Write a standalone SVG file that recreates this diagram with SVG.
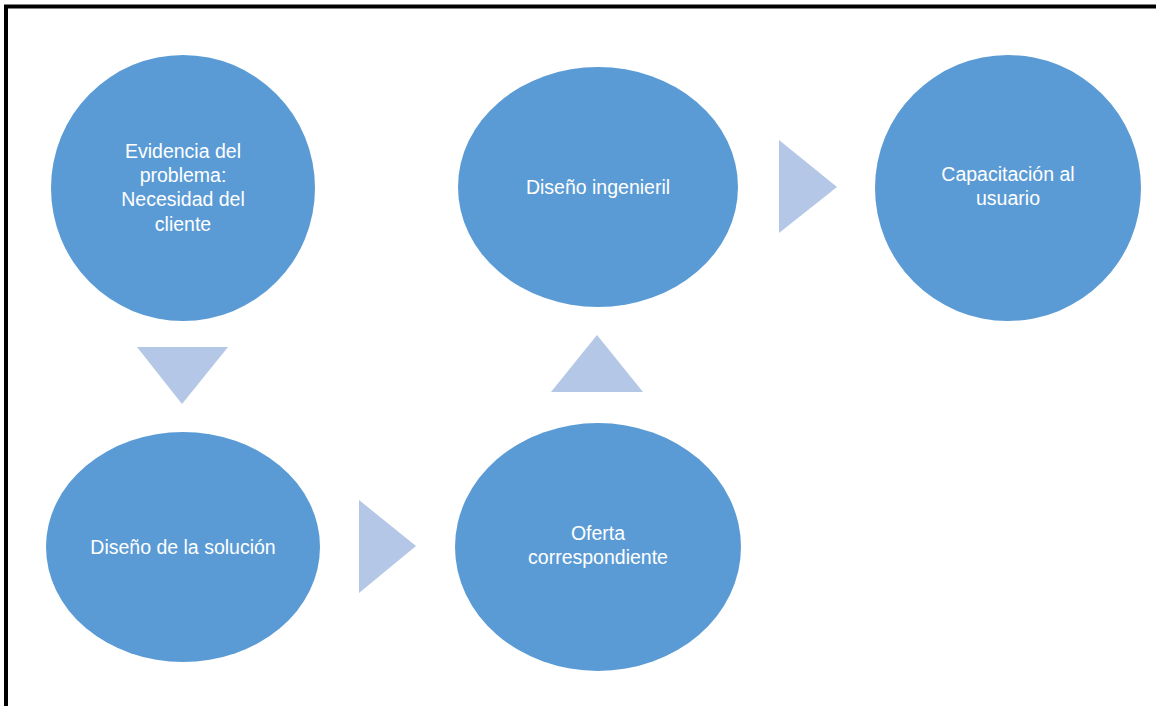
<svg xmlns="http://www.w3.org/2000/svg" width="1156" height="706" viewBox="0 0 1156 706">
<style>
.c{fill:#5b9bd5}
.a{fill:#b4c7e7}
.t{font-family:"Liberation Sans",Arial,sans-serif;font-size:19.5px;fill:#ffffff;text-anchor:middle}
</style>
<rect width="1156" height="706" fill="#ffffff"/>
<path d="M6 706 V6.5 H1156" fill="none" stroke="#000000" stroke-width="4"/>
<g id="connectors">
<polygon class="a" points="137,347 228,347 182,404"/>
<polygon class="a" points="359,500 359,593 416,546"/>
<polygon class="a" points="551,392 643,392 597,335"/>
<polygon class="a" points="779,140 779,233 837,187"/>
</g>
<g id="n1"><ellipse class="c" cx="183" cy="188" rx="132" ry="133"/>
<text class="t" x="183" y="158">Evidencia del</text><text class="t" x="183" y="182">problema:</text><text class="t" x="183" y="206">Necesidad del</text><text class="t" x="183" y="231">cliente</text></g>
<g id="n2"><ellipse class="c" cx="598" cy="187" rx="140" ry="120"/>
<text class="t" x="598" y="194">Diseño ingenieril</text></g>
<g id="n3"><ellipse class="c" cx="1008" cy="188" rx="133" ry="133"/>
<text class="t" x="1008" y="181">Capacitación al</text><text class="t" x="1008" y="205">usuario</text></g>
<g id="n4"><ellipse class="c" cx="183" cy="547" rx="137" ry="115"/>
<text class="t" x="183" y="554">Diseño de la solución</text></g>
<g id="n5"><ellipse class="c" cx="598" cy="547" rx="143" ry="124"/>
<text class="t" x="598" y="540">Oferta</text><text class="t" x="598" y="564">correspondiente</text></g>
</svg>
